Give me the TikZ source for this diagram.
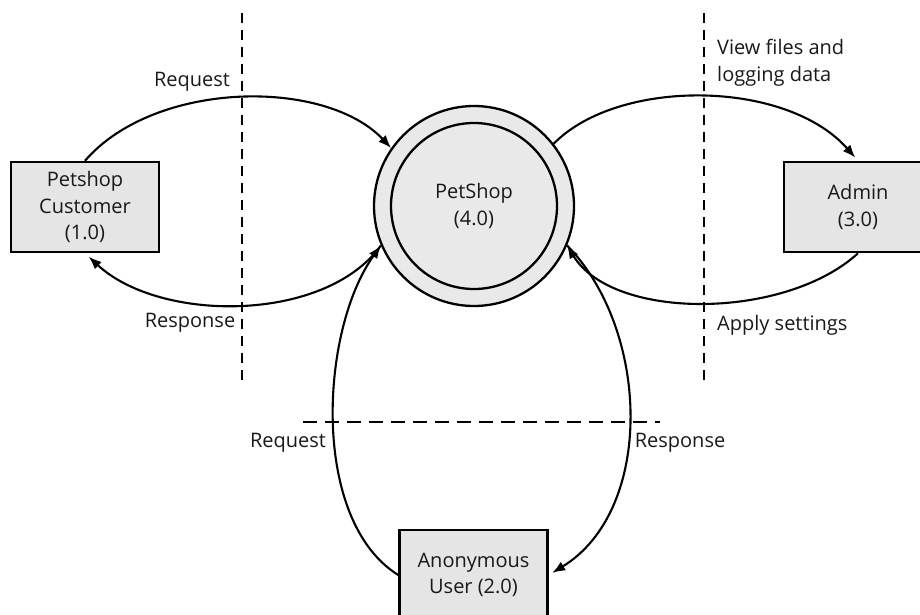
\documentclass[tikz,border=0pt]{standalone}
\usepackage{fontspec}
\setmainfont{Open Sans}
\usetikzlibrary{arrows.meta}
\tikzset{
    entity/.style={rectangle, draw, fill=gray!20, line width=2.5pt, minimum width=148pt, minimum height=90pt, align=center, inner sep=0pt},
    process/.style={circle, draw, fill=gray!17, line width=2.3pt, inner sep=0pt},
    line/.style={draw, line width=2.1pt, -{Latex[length=13pt,width=10pt]}},
    boundary/.style={draw, line width=2.8pt, dash pattern=on 10pt off 7pt},
    note/.style={inner sep=1pt}
}

\begin{document}
\begin{tikzpicture}[x=1pt, y=-1pt, every node/.style={font=\fontsize{20}{26.5}\selectfont, text=black!90}]
    \useasboundingbox (0,0) rectangle (920,615);

    % Trust boundaries
    \draw [boundary] (242,13) -- (242,387);
    \draw [boundary] (704,13) -- (704,387);
    \draw [boundary, dash pattern=on 14pt off 8pt] (303,422) -- (660,422);

    % PetShop process
    \node [process, minimum size=200pt] (petshop) at (474,206) {};
    \node [process, minimum size=166pt, align=center] (core) at (petshop) {PetShop\\(4.0)};

    % External entities
    \node [entity] (customer) at (85,207) {Petshop\\Customer\\(1.0)};
    \node [entity] (admin) at (858,207) {Admin\\(3.0)};
    \node [entity] (anon) at (473.5,575) {Anonymous\\User (2.0)};

    % Customer flows
    \path [line] (customer.north) .. controls (155,80) and (325,78) .. (petshop.145);
    \path [line, shorten >=5pt] (petshop.203) .. controls (325,323) and (160,323) .. (customer.south);
    \node [note] (custreq) at (192,82) {Request};
    \node [note] (custresp) at (190,323) {Response};

    % Admin flows
    \path [line, shorten >=4pt] (petshop.38) .. controls (618,78) and (786,79) .. (admin.north);
    \path [line] (admin.south) .. controls (785,320) and (613,321) .. (petshop.337);
    \node [note, anchor=west, align=left] (admview) at (716,63) {View files and\\logging data};
    \node [note, anchor=west] (admapply) at (716,325) {Apply settings};

    % Anonymous flows
    \path [line] (anon.west) .. controls (310,520) and (320,330) .. (petshop.203);
    \path [line, shorten >=4pt] (petshop.337) .. controls (650,330) and (655,510) .. (anon.east);
    \node [note] (anonreq) at (288,443) {Request};
    \node [note] (anonresp) at (680,443) {Response};
\end{tikzpicture}
\end{document}
